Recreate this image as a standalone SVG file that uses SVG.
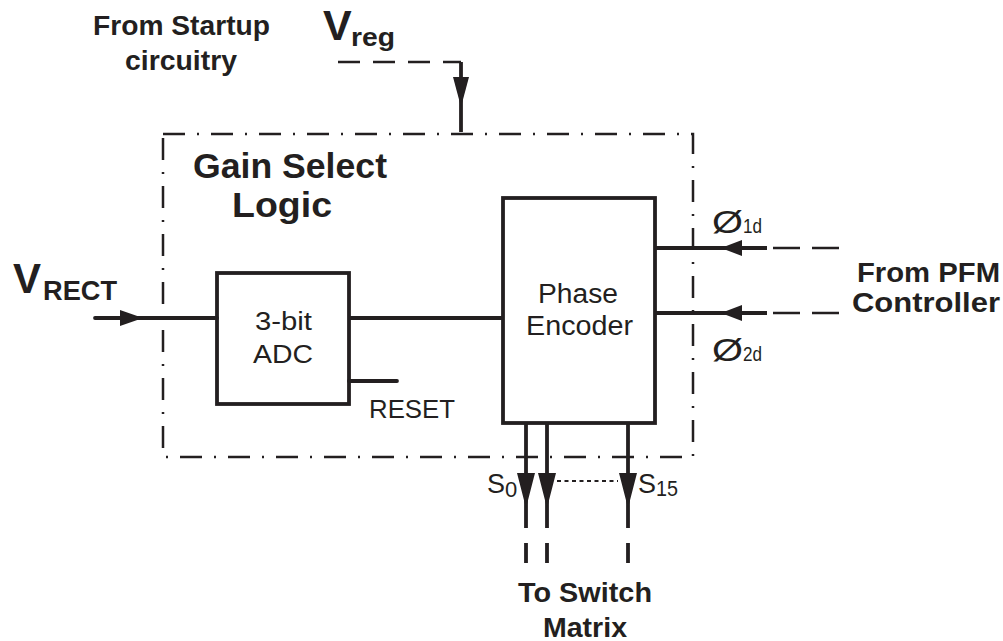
<svg xmlns="http://www.w3.org/2000/svg" width="1003" height="641" viewBox="0 0 1003 641">
<style>
text{font-family:"Liberation Sans",Arial,sans-serif;fill:#231f20}
.b{font-weight:bold}
.box{fill:none;stroke:#231f20;stroke-width:3.8}
.w{stroke:#231f20;stroke-width:3.8;fill:none}
.d{stroke:#231f20;stroke-width:2.5;fill:none;stroke-dasharray:22 13}
.dd{stroke:#231f20;stroke-width:2.5;fill:none;stroke-dasharray:22 12 2 12}
.ah{fill:#231f20}
</style>
<rect width="1003" height="641" fill="#fff"/>
<g id="gain-select-logic">
<rect class="dd" x="163" y="134" width="530" height="323"/>
<text class="b" x="193" y="178" font-size="35" textLength="194" lengthAdjust="spacingAndGlyphs">Gain Select</text>
<text class="b" x="232" y="217" font-size="35" textLength="100" lengthAdjust="spacingAndGlyphs">Logic</text>
</g>
<g id="adc">
<rect class="box" x="217" y="273" width="132" height="131"/>
<text x="255" y="330" font-size="26" textLength="57" lengthAdjust="spacingAndGlyphs">3-bit</text>
<text x="253" y="363" font-size="26" textLength="60" lengthAdjust="spacingAndGlyphs">ADC</text>
</g>
<g id="phase-encoder">
<rect class="box" x="503" y="198" width="152" height="225"/>
<text x="538" y="303" font-size="27" textLength="80" lengthAdjust="spacingAndGlyphs">Phase</text>
<text x="526" y="335" font-size="27" textLength="107" lengthAdjust="spacingAndGlyphs">Encoder</text>
</g>
<g id="labels">
<text class="b" x="93" y="35" font-size="27" textLength="177" lengthAdjust="spacingAndGlyphs">From Startup</text>
<text class="b" x="125" y="70" font-size="27" textLength="112" lengthAdjust="spacingAndGlyphs">circuitry</text>
<text class="b" x="323" y="40" font-size="43">V</text>
<text class="b" x="351" y="46" font-size="26" textLength="44" lengthAdjust="spacingAndGlyphs">reg</text>
<text class="b" x="13" y="293" font-size="42">V</text>
<text class="b" x="43" y="300" font-size="27" textLength="74" lengthAdjust="spacingAndGlyphs">RECT</text>
<text x="369" y="418" font-size="25" textLength="86" lengthAdjust="spacingAndGlyphs">RESET</text>
<text x="712" y="233" font-size="32" textLength="31" lengthAdjust="spacingAndGlyphs">Ø</text>
<text x="743" y="233" font-size="20" textLength="19" lengthAdjust="spacingAndGlyphs">1d</text>
<text x="712" y="361" font-size="32" textLength="31" lengthAdjust="spacingAndGlyphs">Ø</text>
<text x="743" y="361" font-size="20" textLength="19" lengthAdjust="spacingAndGlyphs">2d</text>
<text class="b" x="857" y="282" font-size="28" textLength="143" lengthAdjust="spacingAndGlyphs">From PFM</text>
<text class="b" x="852" y="312" font-size="28" textLength="148" lengthAdjust="spacingAndGlyphs">Controller</text>
<text x="487" y="493" font-size="27" textLength="18" lengthAdjust="spacingAndGlyphs">S</text>
<text x="505" y="497" font-size="22">0</text>
<text x="638" y="493" font-size="27" textLength="18" lengthAdjust="spacingAndGlyphs">S</text>
<text x="656" y="496" font-size="22" textLength="22" lengthAdjust="spacingAndGlyphs">15</text>
<text class="b" x="518" y="602" font-size="28" textLength="134" lengthAdjust="spacingAndGlyphs">To Switch</text>
<text class="b" x="543" y="637" font-size="28" textLength="84" lengthAdjust="spacingAndGlyphs">Matrix</text>
</g>
<g id="connectors">
<path class="d" d="M338 62 H461"/>
<path class="w" d="M461 62 V132"/>
<path class="ah" d="M453 77 L469 77 L461 107 Z"/>
<path class="w" d="M95 318 H217" stroke-linecap="round"/>
<path class="ah" d="M120 310 L143 318 L120 326 Z"/>
<path class="w" d="M349 318 H503"/>
<path class="w" d="M349 381 H397" stroke-linecap="round"/>
<path class="w" d="M655 248 H767"/>
<path class="ah" d="M742 240 L721 248 L742 256 Z"/>
<path class="d" d="M773 248 H843" style="stroke-dasharray:27 12"/>
<path class="w" d="M655 313 H767"/>
<path class="ah" d="M742 305 L721 313 L742 321 Z"/>
<path class="d" d="M773 313 H843" style="stroke-dasharray:27 12"/>
<path class="w" d="M526 423 V508 M547 423 V508 M628 423 V508"/>
<path class="ah" d="M517 473 L535 473 L526 508 Z M538 473 L556 473 L547 508 Z M619 473 L637 473 L628 508 Z"/>
<path class="w" d="M526 508 V528 M526 543 V563 M547 508 V528 M547 543 V563 M628 508 V528 M628 543 V563" stroke-width="3"/>
<path d="M557 481 H618" stroke="#231f20" stroke-width="2" stroke-dasharray="4 3.5" fill="none"/>
</g>
</svg>
